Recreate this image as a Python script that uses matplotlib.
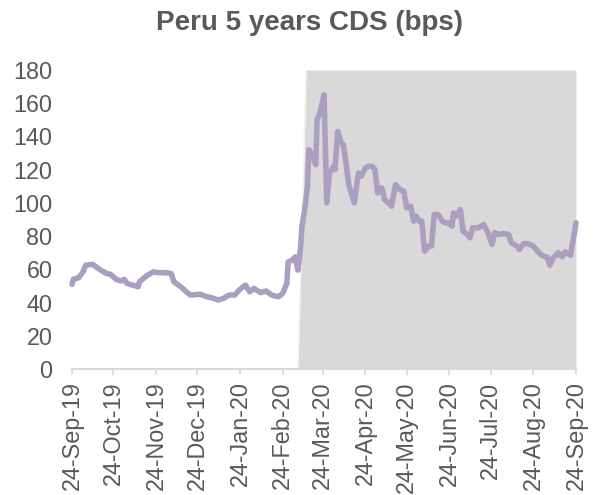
import matplotlib
matplotlib.use("Agg")
import matplotlib.pyplot as plt
import matplotlib.dates as mdates
import pandas as pd

# ---- data ----
title = "Peru 5 years CDS (bps)"

dates = [
    "2019-09-24", "2019-09-25", "2019-09-29", "2019-10-02", "2019-10-04", "2019-10-09",
    "2019-10-14", "2019-10-19", "2019-10-22", "2019-10-26", "2019-10-30", "2019-11-01",
    "2019-11-03", "2019-11-07", "2019-11-11", "2019-11-12", "2019-11-17", "2019-11-22",
    "2019-11-26", "2019-12-01", "2019-12-05", "2019-12-07", "2019-12-12", "2019-12-16",
    "2019-12-19", "2019-12-26", "2019-12-31", "2020-01-05", "2020-01-08", "2020-01-12",
    "2020-01-16", "2020-01-20", "2020-01-24", "2020-01-28", "2020-01-31", "2020-02-03",
    "2020-02-08", "2020-02-12", "2020-02-16", "2020-02-21", "2020-02-24", "2020-02-27",
    "2020-02-28", "2020-03-02", "2020-03-04", "2020-03-06", "2020-03-08", "2020-03-09",
    "2020-03-11", "2020-03-13", "2020-03-14", "2020-03-17", "2020-03-19", "2020-03-20",
    "2020-03-22", "2020-03-25", "2020-03-27", "2020-03-29", "2020-04-01", "2020-04-02",
    "2020-04-04", "2020-04-06", "2020-04-08", "2020-04-10", "2020-04-12", "2020-04-16",
    "2020-04-19", "2020-04-21", "2020-04-24", "2020-04-26", "2020-04-29", "2020-05-01",
    "2020-05-03", "2020-05-06", "2020-05-08", "2020-05-11", "2020-05-13", "2020-05-16",
    "2020-05-19", "2020-05-22", "2020-05-24", "2020-05-27", "2020-05-29", "2020-05-31",
    "2020-06-02", "2020-06-04", "2020-06-06", "2020-06-09", "2020-06-11", "2020-06-13",
    "2020-06-16", "2020-06-19", "2020-06-21", "2020-06-23", "2020-06-26", "2020-06-27",
    "2020-06-29", "2020-07-02", "2020-07-04", "2020-07-07", "2020-07-09", "2020-07-11",
    "2020-07-15", "2020-07-19", "2020-07-22", "2020-07-25", "2020-07-27", "2020-07-30",
    "2020-08-02", "2020-08-06", "2020-08-08", "2020-08-12", "2020-08-14", "2020-08-17",
    "2020-08-20", "2020-08-24", "2020-08-28", "2020-08-31", "2020-09-03", "2020-09-05",
    "2020-09-07", "2020-09-11", "2020-09-14", "2020-09-16", "2020-09-20", "2020-09-22",
    "2020-09-24",
]
cds_bps = [
    51, 54, 55, 58.5, 62.5, 63,
    60, 57.5, 57, 54, 53, 54,
    51.5, 50.5, 49.5, 52.5, 56, 58.5,
    58, 58, 57.5, 52.5, 49.5, 46.5,
    44.5, 45, 43.5, 42.5, 41.5, 42.5,
    44.5, 44.5, 48, 50.5, 46.5, 48.5,
    46, 47, 44.5, 43.5, 45.5, 51.5,
    64.5, 65.5, 67.5, 59.5, 73, 86,
    96, 110, 132, 128, 123, 150,
    154, 165, 100, 118, 122, 120,
    143, 137, 135, 124, 111, 100,
    118, 116, 121, 122, 122, 120,
    106, 109, 102, 100, 98, 111,
    108, 107, 97, 98, 89, 92,
    89, 89, 71, 74, 74, 93,
    93, 89, 88, 88, 86, 94,
    92, 96, 83, 81, 79, 85,
    85, 87, 82, 75, 82, 81,
    81.5, 81, 76, 74, 72, 75.5,
    75.5, 74, 70, 68, 67.5, 62.5,
    66.5, 70, 67.5, 70.5, 68.5, 78,
    88,
]

# shaded "crisis" period
shade_dates = ["2020-03-06", "2020-03-12", "2020-09-24"]
shade_values = [0, 180, 180]

tick_dates = [
    "2019-09-24", "2019-10-24", "2019-11-24", "2019-12-24", "2020-01-24", "2020-02-24",
    "2020-03-24", "2020-04-24", "2020-05-24", "2020-06-24", "2020-07-24", "2020-08-24",
    "2020-09-24",
]
y_ticks = list(range(0, 181, 20))

# ---- style ----
plt.rcParams['font.family'] = ['Liberation Sans', 'DejaVu Sans']
txt = '#595959'

fig = plt.figure(figsize=(5.95, 4.95), dpi=100)
ax = fig.add_axes([72 / 595, 1 - 369 / 495, 504 / 595, 299 / 495])

x = pd.to_datetime(dates)
sx = pd.to_datetime(shade_dates)
ax.fill_between(sx, shade_values, 0, color='#d9d9d9', linewidth=0, zorder=1)
ax.plot(sx[:2], shade_values[:2], color='#f4f4f4', linewidth=1.2, zorder=1.5)
ax.plot(x, cds_bps, color='#ab9fc1', linewidth=4.0, solid_joinstyle='round',
        solid_capstyle='round', zorder=3, clip_on=False)

ax.set_xlim(pd.Timestamp("2019-09-24"), pd.Timestamp("2020-09-24"))
ax.set_ylim(0, 180)
ax.set_yticks(y_ticks)
ax.set_xticks(pd.to_datetime(tick_dates))
ax.xaxis.set_major_formatter(mdates.DateFormatter('%d-%b-%y'))

for s in ['top', 'right', 'left']:
    ax.spines[s].set_visible(False)
ax.spines['bottom'].set_color('#d9d9d9')
ax.spines['bottom'].set_linewidth(1.5)
ax.spines['bottom'].set_zorder(4)

ax.tick_params(axis='y', length=0, pad=14, labelsize=16.8, labelcolor=txt)
ax.tick_params(axis='x', length=4, width=1.2, color='#d9d9d9', pad=5,
               labelsize=16.8, labelcolor=txt, labelrotation=90)

fig.text(310 / 595, 1 - 30 / 495, title, ha='center', va='baseline',
         fontsize=20, fontweight='bold', color=txt)

fig.savefig('out.png', dpi=100)
